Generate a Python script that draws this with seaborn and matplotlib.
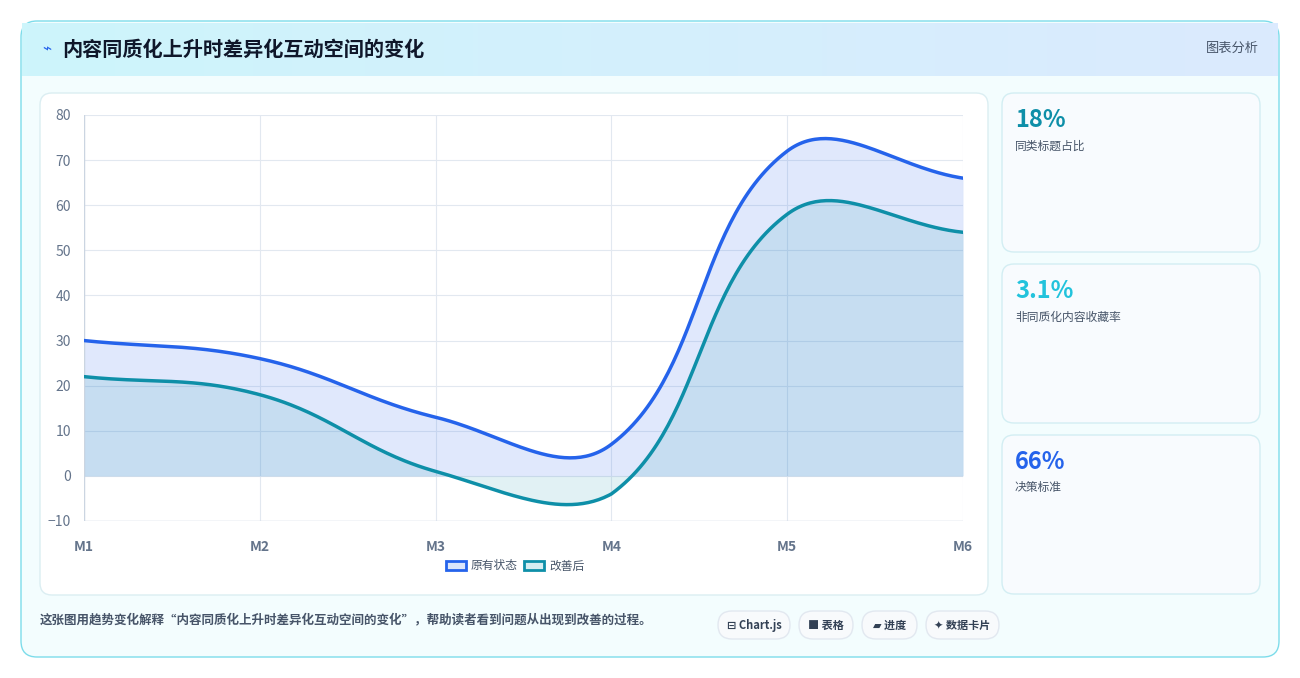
import numpy as np
import matplotlib
matplotlib.use("Agg")
import matplotlib.pyplot as plt
import seaborn as sns
from matplotlib.patches import FancyBboxPatch, Patch
from matplotlib.colors import LinearSegmentedColormap
import pandas as pd

sns.set_theme(style="white")
plt.rcParams['font.family'] = ['Noto Sans CJK SC', 'DejaVu Sans']

categories = ["M1", "M2", "M3", "M4", "M5", "M6"]
before = [30, 26, 13, 7, 72, 66]
after = [22, 18, 1, -4, 58, 54]
series_names = ["原有状态", "改善后"]
kpi_values = ["18%", "3.1%", "66%"]
kpi_labels = ["同类标题占比", "非同质化内容收藏率", "决策标准"]
kpi_colors = ["#0e8fa8", "#22c3dc", "#2563eb"]
title = "内容同质化上升时差异化互动空间的变化"
caption = "这张图用趋势变化解释“内容同质化上升时差异化互动空间的变化”，帮助读者看到问题从出现到改善的过程。"
chips = ["⊟ Chart.js", "■ 表格", "▰ 进度", "✦ 数据卡片"]

W, H = 1300, 678
fig = plt.figure(figsize=(W/100, H/100), dpi=100)
fig.patch.set_facecolor("white")

def px(x, y):
    return x / W, 1 - y / H

def rbox(x0, y0, x1, y1, fc, ec, r=12, lw=1, z=0):
    a, b = px(x0, y1)
    p = FancyBboxPatch((a, b), (x1-x0)/W, (y1-y0)/H,
                       boxstyle=f"round,pad=0,rounding_size={r/W}",
                       transform=fig.transFigure, fc=fc, ec=ec, lw=lw, zorder=z,
                       mutation_aspect=W/H)
    fig.patches.append(p)

rbox(21, 21, 1279, 657, "#f3fdfe", "#7ddcea", r=16, lw=1)
grad = np.linspace(0, 1, 256)[None, :]
hax = fig.add_axes([22/W, 1-76/H, 1256/W, 53/H])
cm = LinearSegmentedColormap.from_list("h", ["#cdf5fb", "#dbeafe"])
hax.imshow(grad, aspect="auto", cmap=cm, extent=[0, 1, 0, 1])
hax.axis("off")
hax.set_zorder(2)
fig.text(*px(42, 49), "⌁", color="#2563eb", fontsize=11, va="center", zorder=10)
fig.text(*px(62, 49), title, fontsize=14.5, fontweight="bold", color="#0f172a", va="center", zorder=10)
fig.text(*px(1259, 48), "图表分析", fontsize=9.5, color="#475569", va="center", ha="right", zorder=10)

rbox(40, 93, 988, 595, "white", "#dbeef2", r=12)
for i, (v, l, c) in enumerate(zip(kpi_values, kpi_labels, kpi_colors)):
    y0 = 93 + i * 171
    rbox(1002, y0, 1260, y0 + 159, "#f8fbfe", "#d3eef3", r=12)
    fig.text(*px(1015, y0 + 27), v, fontsize=17, fontweight="heavy", color=c, va="center")
    fig.text(*px(1015, y0 + 53), l, fontsize=8.5, color="#475569", va="center")

fig.text(*px(40, 620), caption, fontsize=9, color="#475569", va="center", fontweight="bold")
chip_x = [718, 799, 862, 926]
chip_w = [72, 54, 55, 73]
for cx, cw, t in zip(chip_x, chip_w, chips):
    rbox(cx, 611, cx + cw, 639, "#f8fafc", "#e2e8f0", r=14)
    fig.text(*px(cx + cw/2, 625), t, fontsize=8, color="#334155", ha="center", va="center",
             fontweight="bold", family=['Noto Sans CJK SC', 'DejaVu Sans'])

L, R, T, B = 84, 963, 115, 521
ax = fig.add_axes([L/W, 1-B/H, (R-L)/W, (B-T)/H])
ax.set_zorder(3)
ax.patch.set_alpha(0)
ymin, ymax = -10, 80
ax.set_xlim(0, 5); ax.set_ylim(ymin, ymax)

def spline(vals, tension=0.4):
    xs = np.arange(len(vals), dtype=float)
    ys = np.array(vals, float)
    sx = (R-L)/5; sy = (B-T)/(ymax-ymin)
    P = np.stack([xs*sx, ys*sy], 1)
    n = len(P); cps = []
    for i in range(n):
        prev = P[max(i-1, 0)]; cur = P[i]; nxt = P[min(i+1, n-1)]
        d01 = np.linalg.norm(cur-prev); d12 = np.linalg.norm(nxt-cur)
        tot = d01 + d12
        s01 = d01/tot if tot else 0; s12 = d12/tot if tot else 0
        cps.append((cur - tension*s01*(nxt-prev), cur + tension*s12*(nxt-prev)))
    lo = np.array([0, ymin*sy]); hi = np.array([5*sx, ymax*sy])
    cps = [(np.clip(a, lo, hi), np.clip(b, lo, hi)) for a, b in cps]
    out = []
    t = np.linspace(0, 1, 60)[:, None]
    for i in range(n-1):
        p0 = P[i]; p1 = cps[i][1]; p2 = cps[i+1][0]; p3 = P[i+1]
        out.append((1-t)**3*p0 + 3*(1-t)**2*t*p1 + 3*(1-t)*t**2*p2 + t**3*p3)
    c = np.vstack(out)
    return c[:, 0]/sx, c[:, 1]/sy

bx, by = spline(before)
axx, ayy = spline(after)
ax.fill_between(bx, by, 0, color="#2563eb", alpha=0.14, lw=0, zorder=1)
ax.fill_between(axx, ayy, 0, color="#0e8fa8", alpha=0.12, lw=0, zorder=1)
df = pd.DataFrame({"x": np.concatenate([bx, axx]), "y": np.concatenate([by, ayy]),
                   "s": [series_names[0]]*len(bx) + [series_names[1]]*len(axx)})
sns.lineplot(data=df, x="x", y="y", hue="s", palette=["#2563eb", "#0e8fa8"], lw=2.5,
             ax=ax, legend=False, sort=False, zorder=3)
ax.set_xticks(range(6)); ax.set_xticklabels(categories)
ax.set_yticks(range(-10, 81, 10))
ax.grid(True, color="#e2e8f0", lw=0.8)
for s in ax.spines.values(): s.set_visible(False)
ax.tick_params(axis="x", colors="#64748b", labelsize=10, pad=8)
ax.tick_params(axis="y", colors="#64748b", labelsize=10)
for lab in ax.get_xticklabels(): lab.set_fontweight("bold")
ax.set_xlabel(""); ax.set_ylabel("")
ax.axhline(ymin, color="#cbd5e1", lw=1); ax.axvline(0, color="#cbd5e1", lw=1)

h = [Patch(fc="#dbe6fb", ec="#2563eb", lw=2), Patch(fc="#d5edf1", ec="#0e8fa8", lw=2)]
leg = fig.legend(h, series_names, loc="center", bbox_to_anchor=px(515, 566), ncol=2, frameon=False,
           fontsize=8.5, handlelength=1.7, handleheight=0.9, columnspacing=0.6, handletextpad=0.4,
           labelcolor="#475569")
leg.set_zorder(10)

fig.savefig("out.png", dpi=100, facecolor="white")
